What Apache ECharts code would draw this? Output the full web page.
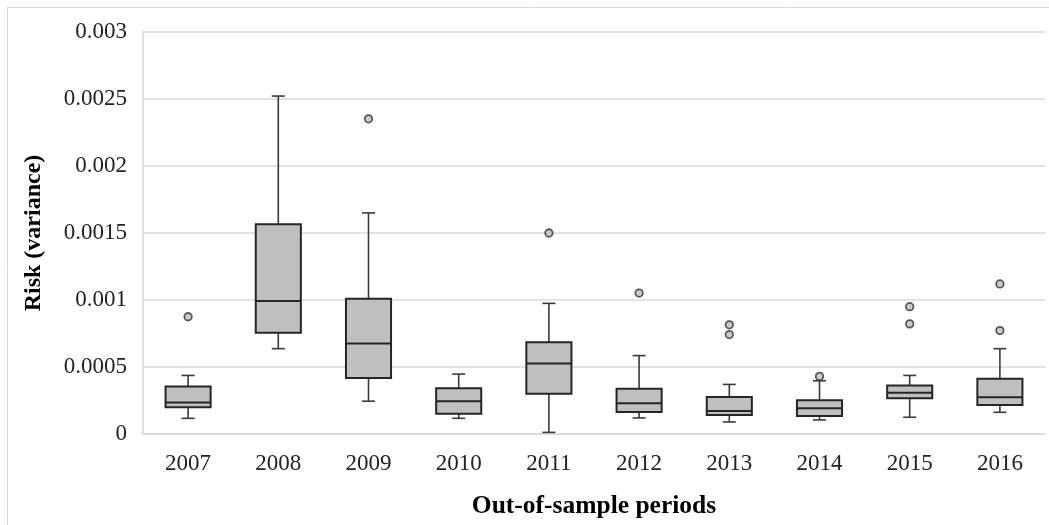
<!DOCTYPE html>
<html>
<head>
<meta charset="utf-8">
<script src="https://cdn.jsdelivr.net/npm/echarts@6/dist/echarts.min.js"></script>
<style>
  html, body { margin: 0; padding: 0; background: #fff; }
  #chart { width: 1049px; height: 525px; }
</style>
</head>
<body>
<div id="chart"></div>
<script>
// Out-of-sample risk distribution per period
const periods = ['2007', '2008', '2009', '2010', '2011', '2012', '2013', '2014', '2015', '2016'];
const whiskerLow  = [0.000117, 0.000637, 0.000245, 0.000117, 0.000012, 0.000120, 0.000090, 0.000105, 0.000125, 0.000162];
const quartile1   = [0.000200, 0.000755, 0.000417, 0.000152, 0.000300, 0.000165, 0.000142, 0.000135, 0.000267, 0.000217];
const medians     = [0.000235, 0.000992, 0.000675, 0.000245, 0.000527, 0.000230, 0.000172, 0.000192, 0.000307, 0.000275];
const quartile3   = [0.000355, 0.001565, 0.001010, 0.000342, 0.000685, 0.000337, 0.000277, 0.000252, 0.000362, 0.000412];
const whiskerHigh = [0.000437, 0.002522, 0.001650, 0.000447, 0.000975, 0.000585, 0.000370, 0.000397, 0.000437, 0.000637];
// [period index, value]
const outliers = [
  [0, 0.000875],
  [2, 0.002352],
  [4, 0.001500],
  [5, 0.001052],
  [6, 0.000815], [6, 0.000742],
  [7, 0.000430],
  [8, 0.000950], [8, 0.000822],
  [9, 0.001120], [9, 0.000772]
];
const yTicks = [0, 0.0005, 0.001, 0.0015, 0.002, 0.0025, 0.003];

const boxRows = periods.map((p, i) => [i, whiskerLow[i], quartile1[i], medians[i], quartile3[i], whiskerHigh[i]]);

const strokeColor = '#262626';
const whiskerColor = '#3a3a3a';
const fillColor = '#bfbfbf';
const serif = '"Liberation Serif", "Times New Roman", serif';

function renderBox(params, api) {
  const i = api.value(0);
  const lo = api.coord([i, api.value(1)]);
  const q1 = api.coord([i, api.value(2)]);
  const md = api.coord([i, api.value(3)]);
  const q3 = api.coord([i, api.value(4)]);
  const hi = api.coord([i, api.value(5)]);
  const band = api.size([1, 0])[0];
  const half = band * 0.25;
  const cap = 6.5;
  const x = lo[0];
  const lineStyle = { stroke: whiskerColor, lineWidth: 1.6 };
  return {
    type: 'group',
    children: [
      { type: 'line', shape: { x1: x, y1: hi[1], x2: x, y2: q3[1] }, style: lineStyle },
      { type: 'line', shape: { x1: x, y1: q1[1], x2: x, y2: lo[1] }, style: lineStyle },
      { type: 'line', shape: { x1: x - cap, y1: hi[1], x2: x + cap, y2: hi[1] }, style: lineStyle },
      { type: 'line', shape: { x1: x - cap, y1: lo[1], x2: x + cap, y2: lo[1] }, style: lineStyle },
      { type: 'rect', shape: { x: x - half, y: q3[1], width: half * 2, height: q1[1] - q3[1] },
        style: { fill: fillColor, stroke: strokeColor, lineWidth: 2 } },
      { type: 'line', shape: { x1: x - half, y1: md[1], x2: x + half, y2: md[1] },
        style: { stroke: strokeColor, lineWidth: 2 } }
    ]
  };
}

const chart = echarts.init(document.getElementById('chart'), null, { renderer: 'canvas' });
chart.setOption({
  backgroundColor: '#fff',
  animation: false,
  graphic: [{
    type: 'rect',
    shape: { x: 7.5, y: 7.5, width: 1100, height: 600 },
    style: { fill: 'none', stroke: '#d9d9d9', lineWidth: 1 },
    silent: true
  }],
  grid: { left: 143, right: 4, top: 32, bottom: 91 },
  xAxis: {
    type: 'category',
    data: periods,
    name: 'Out-of-sample periods',
    nameLocation: 'middle',
    nameGap: 59,
    nameTextStyle: { fontFamily: serif, fontSize: 25.5, fontWeight: 'bold', color: '#000' },
    axisLine: { lineStyle: { color: '#d9d9d9', width: 1.5 } },
    axisTick: { show: false },
    axisLabel: { fontFamily: serif, fontSize: 23, color: '#222', margin: 18 },
    splitLine: { show: false }
  },
  yAxis: {
    type: 'value',
    min: 0,
    max: 0.003,
    interval: 0.0005,
    name: 'Risk (variance)',
    nameLocation: 'middle',
    nameGap: 97,
    nameRotate: 90,
    nameTextStyle: { fontFamily: serif, fontSize: 24, fontWeight: 'bold', color: '#000' },
    axisLine: { show: true, lineStyle: { color: '#d9d9d9', width: 1.5 } },
    axisTick: { show: false },
    axisLabel: {
      fontFamily: serif, fontSize: 23, color: '#222', margin: 16,
      formatter: v => {
        const t = yTicks.find(k => Math.abs(k - v) < 1e-9);
        return String(t !== undefined ? t : v);
      }
    },
    splitLine: { lineStyle: { color: '#d9d9d9', width: 1.5 } }
  },
  series: [
    {
      type: 'custom',
      data: boxRows,
      encode: { x: 0, y: [1, 2, 3, 4, 5] },
      renderItem: renderBox,
      z: 2
    },
    {
      type: 'scatter',
      data: outliers,
      symbol: 'circle',
      symbolSize: 7.5,
      itemStyle: { color: fillColor, borderColor: '#333', borderWidth: 1.8 },
      z: 3
    }
  ]
});
</script>
</body>
</html>
